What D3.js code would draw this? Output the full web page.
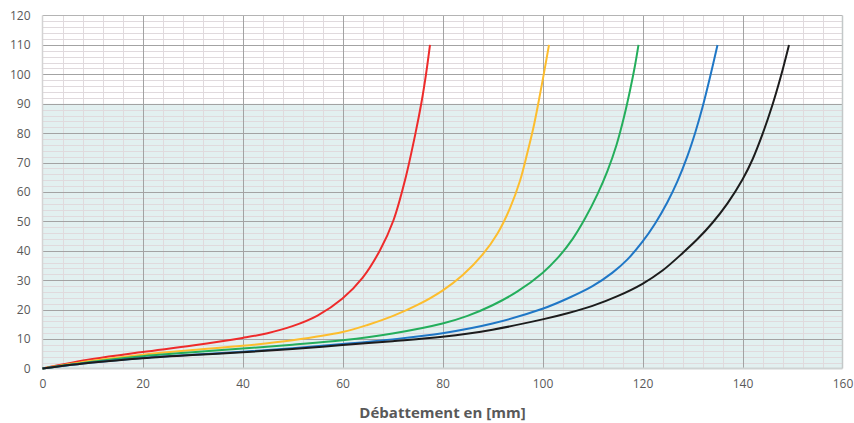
<!DOCTYPE html>
<html>
<head>
<meta charset="utf-8">
<script src="https://cdn.jsdelivr.net/npm/d3@7"></script>
<style>
  html, body { margin: 0; padding: 0; background: #fff; }
  svg { display: block; }
  text { font-family: "Open Sans", "Noto Sans", sans-serif; }
</style>
</head>
<body>
<svg id="chart" width="854" height="423"></svg>
<script>
// ---- data ----
const xTicks = [0, 20, 40, 60, 80, 100, 120, 140, 160];
const yTicks = [0, 10, 20, 30, 40, 50, 60, 70, 80, 90, 100, 110, 120];
const xTitle = "Débattement en [mm]";
const shadedMax = 90;

const seriesNames = ["rouge", "jaune", "vert", "bleu", "noir"];
const seriesColors = ["#ee2b2b", "#fdbd2d", "#24ae5c", "#1f77c6", "#1c1c1c"];

const redX = [0, 10, 20, 30, 40, 45, 50, 55, 60, 64, 67.5, 70.2, 72.5, 74.6, 75.8, 76.7, 77.5];
const redY = [0, 3.2, 5.6, 7.8, 10.4, 12, 14.4, 18, 23.8, 30.8, 40.2, 50.4, 64, 80, 90.5, 100, 110];

const yellowX = [0, 10, 20, 30, 40, 50, 60, 65, 70, 75, 80, 84, 88, 91, 93.5, 95.5, 97, 98.2, 99.2, 100.3, 101.3];
const yellowY = [0, 2.6, 4.7, 6.3, 7.7, 9.6, 12.4, 14.8, 17.8, 21.6, 26.5, 31.7, 38.7, 45.9, 54.5, 63.8, 73.5, 82, 90.5, 100.5, 110];

const greenX = [0, 10, 20, 30, 40, 50, 60, 70, 80, 85, 90, 95, 100, 103, 106, 108.5, 111, 113, 114.8, 116.3, 117.5, 118.5, 119.2];
const greenY = [0, 2.3, 4.2, 5.5, 6.8, 8.1, 9.6, 11.9, 15.3, 17.9, 21.5, 26.2, 32.5, 37.5, 44, 51, 59.3, 67.2, 76, 85.5, 94.5, 103, 110];

const blueX = [0, 10, 20, 30, 40, 50, 60, 70, 80, 90, 100, 105, 110, 114, 117, 120, 122.5, 125, 127, 129, 130.6, 132, 133.5, 135];
const blueY = [0, 2, 3.6, 4.7, 5.7, 6.9, 8.3, 9.9, 12, 15.3, 20.3, 23.8, 28, 32.6, 37.1, 43.1, 49.2, 56.6, 63.7, 72.3, 80.5, 88.8, 99, 110];

const blackX = [0, 10, 20, 30, 40, 50, 60, 70, 80, 90, 100, 105, 110, 115, 120, 124, 128, 131, 134, 137, 140, 142, 144, 146, 147.7, 149.3];
const blackY = [0, 2, 3.5, 4.6, 5.5, 6.6, 8, 9.3, 10.8, 13.2, 16.7, 18.8, 21.3, 24.6, 28.8, 33.3, 39.2, 44, 49.55, 56.15, 64.25, 71.05, 79.65, 89.65, 99.5, 110];

const seriesX = [redX, yellowX, greenX, blueX, blackX];
const seriesY = [redY, yellowY, greenY, blueY, blackY];

// ---- layout ----
const svg = d3.select("#chart");
const L = 42.5, R = 842.5, T = 15.5, B = 368.5;

const x = d3.scaleLinear().domain([0, 160]).range([L, R]);
const y = d3.scaleLinear().domain([0, 120]).range([B, T]);

// shaded band
svg.append("rect")
  .attr("x", x(0)).attr("y", y(shadedMax))
  .attr("width", x(160) - x(0)).attr("height", y(0) - y(shadedMax))
  .attr("fill", "#e2f0f0");

// minor grid
const minorX = d3.range(0, 161, 4).filter(v => v % 20 !== 0);
const minorY = d3.range(0, 121, 2).filter(v => v % 10 !== 0);
const g = svg.append("g");
g.selectAll(".mx").data(minorX).join("line")
  .attr("x1", d => Math.round(x(d)) + 0.5).attr("x2", d => Math.round(x(d)) + 0.5)
  .attr("y1", T).attr("y2", B)
  .attr("stroke", "#e0dadd").attr("stroke-width", 1);
g.selectAll(".my").data(minorY).join("line")
  .attr("x1", L).attr("x2", R)
  .attr("y1", d => Math.round(y(d)) + 0.5).attr("y2", d => Math.round(y(d)) + 0.5)
  .attr("stroke", "#e0dadd").attr("stroke-width", 1);

// major grid
g.selectAll(".Mx").data(xTicks.filter(v => v > 0 && v < 160)).join("line")
  .attr("x1", d => Math.round(x(d)) + 0.5).attr("x2", d => Math.round(x(d)) + 0.5)
  .attr("y1", T).attr("y2", B)
  .attr("stroke", "#a3a3a3").attr("stroke-width", 1);
g.selectAll(".My").data(yTicks.filter(v => v > 0 && v < 120)).join("line")
  .attr("x1", L).attr("x2", R)
  .attr("y1", d => Math.round(y(d)) + 0.5).attr("y2", d => Math.round(y(d)) + 0.5)
  .attr("stroke", "#a3a3a3").attr("stroke-width", 1);

// plot border
svg.append("line").attr("x1", L).attr("x2", R).attr("y1", T).attr("y2", T)
  .attr("stroke", "#b4b4b4");
svg.append("line").attr("x1", L).attr("x2", R).attr("y1", B).attr("y2", B)
  .attr("stroke", "#cfd3d3").attr("stroke-width", 2);
svg.append("line").attr("x1", L).attr("x2", L).attr("y1", T).attr("y2", B)
  .attr("stroke", "#d3d3d3").attr("stroke-width", 1.5);
svg.append("line").attr("x1", R).attr("x2", R).attr("y1", T).attr("y2", B)
  .attr("stroke", "#c3c8c8").attr("stroke-width", 1.5);

// axes (labels only)
const xAxis = d3.axisBottom(x).tickValues(xTicks).tickSize(0).tickPadding(11);
const yAxis = d3.axisLeft(y).tickValues(yTicks).tickSize(0).tickPadding(12);

const gx = svg.append("g").attr("transform", `translate(0,${B})`).call(xAxis);
const gy = svg.append("g").attr("transform", `translate(${L},0)`).call(yAxis);
[gx, gy].forEach(a => {
  a.select(".domain").remove();
  a.selectAll("text")
    .attr("fill", "#595959")
    .style("font-family", "'Open Sans', 'Noto Sans', sans-serif")
    .style("font-size", "12px");
});

// x title
svg.append("text")
  .attr("x", x(80)).attr("y", 418)
  .attr("text-anchor", "middle")
  .attr("fill", "#595959")
  .style("font-size", "15px")
  .style("font-weight", "bold")
  .text(xTitle);

// curves
const line = d3.line()
  .x(d => x(d[0])).y(d => y(d[1]))
  .curve(d3.curveCatmullRom.alpha(0.5));

seriesNames.forEach((name, i) => {
  const pts = seriesX[i].map((v, j) => [v, seriesY[i][j]]);
  svg.append("path")
    .datum(pts)
    .attr("class", "series " + name)
    .attr("d", line)
    .attr("fill", "none")
    .attr("stroke", seriesColors[i])
    .attr("stroke-width", 2)
    .attr("stroke-linejoin", "round");
});
</script>
</body>
</html>
